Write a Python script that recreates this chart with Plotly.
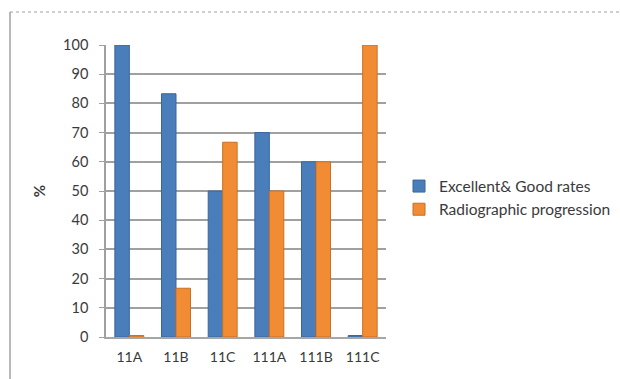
import plotly.graph_objects as go

categories = ["11A", "11B", "11C", "111A", "111B", "111C"]
excellent_good = [100, 83.3, 50, 70, 60, 0.5]
radiographic = [0.5, 16.7, 66.7, 50, 60, 100]
y_ticks = list(range(0, 101, 10))

W, H = 620, 379
L, R, T, B = 106, 234, 45, 42

fig = go.Figure()
fig.add_trace(go.Bar(
    x=categories, y=excellent_good, name="Excellent& Good rates", legendgroup="a",
    marker=dict(color="#4A7EBB", line=dict(color="#3A659A", width=1)),
))
fig.add_trace(go.Bar(
    x=categories, y=radiographic, name="Radiographic progression", legendgroup="b",
    marker=dict(color="#F28C34", line=dict(color="#C96F22", width=1)),
))

font = "Lato, 'Open Sans', sans-serif"
pw = W - L - R
ph = H - T - B
def px_x(p):
    return (p - L) / pw
def px_y(p):
    return (H - B - p) / ph

fig.update_layout(
    width=W, height=H,
    margin=dict(l=L, r=R, t=T, b=B, autoexpand=False),
    paper_bgcolor="white", plot_bgcolor="white",
    barmode="group", bargap=0.38, bargroupgap=0.0,
    font=dict(family=font, size=14, color="#3A3A3A"),
    showlegend=True,
    legend=dict(x=px_x(399), y=px_y(198), xanchor="left", yanchor="middle",
                font=dict(size=15.5, color="#3A3A3A"), tracegroupgap=10,
                traceorder="normal",
                itemwidth=30, bgcolor="rgba(0,0,0,0)"),
    xaxis=dict(
        showgrid=False, showline=True, linecolor="#A6A6A6", linewidth=1.5,
        ticks="", ticklabelstandoff=6,
        tickfont=dict(size=14, color="#3A3A3A"),
    ),
    yaxis=dict(
        range=[0, 100], tickvals=y_ticks, showgrid=True, gridcolor="#A0A0A0",
        gridwidth=1.5, showline=True, linecolor="#A0A0A0", linewidth=1.5,
        ticks="outside", ticklen=5, tickcolor="#A0A0A0", ticklabelstandoff=8,
        tickfont=dict(size=14.5, color="#3A3A3A"), zeroline=False,
        title=dict(text="<b>%</b>", font=dict(size=15, color="#3A3A3A"), standoff=14),
    ),
)

fig.add_shape(type="line", xref="paper", yref="paper",
              x0=px_x(10), x1=px_x(W), y0=px_y(12), y1=px_y(12),
              line=dict(color="#A0A0A0", width=1, dash="dot"))
fig.add_shape(type="line", xref="paper", yref="paper",
              x0=px_x(10), x1=px_x(10), y0=px_y(12), y1=px_y(H),
              line=dict(color="#A0A0A0", width=1.5))

fig.write_html("out.html")
